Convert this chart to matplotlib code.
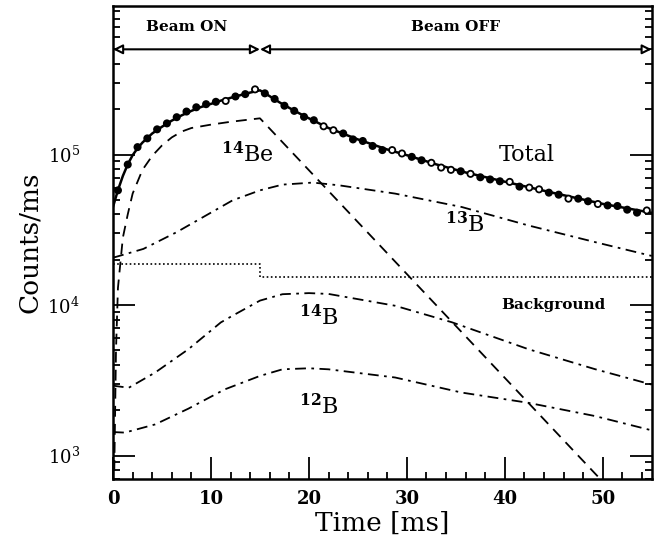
import numpy as np
import matplotlib
matplotlib.use('Agg')
import matplotlib.pyplot as plt
from matplotlib.ticker import MultipleLocator, LogLocator, NullFormatter

plt.rcParams['font.family'] = 'DejaVu Serif'
plt.rcParams['mathtext.fontset'] = 'dejavuserif'

# measured counts (one point per ms bin)
t_data = [0.5, 1.5, 2.5, 3.5, 4.5, 5.5, 6.5, 7.5, 8.5, 9.5, 10.5, 11.5, 12.5, 13.5,
          14.5, 15.5, 16.5, 17.5, 18.5, 19.5, 20.5, 21.5, 22.5, 23.5, 24.5, 25.5,
          26.5, 27.5, 28.5, 29.5, 30.5, 31.5, 32.5, 33.5, 34.5, 35.5, 36.5, 37.5,
          38.5, 39.5, 40.5, 41.5, 42.5, 43.5, 44.5, 45.5, 46.5, 47.5, 48.5, 49.5,
          50.5, 51.5, 52.5, 53.5, 54.5]
counts = [57800, 85800, 112000, 128000, 147000, 161000, 177000, 193000, 206000,
          216000, 224000, 227000, 243000, 252000, 271000, 255000, 234000, 211000,
          195000, 178000, 169000, 154000, 145000, 138000, 126000, 123000, 114000,
          107000, 107000, 101600, 96500, 91600, 88100, 81900, 79100, 77400, 74400,
          70600, 68300, 66400, 65800, 61200, 60300, 58700, 55800, 54100, 50900,
          50900, 48900, 46900, 45900, 45500, 43000, 41100, 42500]
# which points are drawn as open circles
open_pts = [11.5, 14.5, 21.5, 22.5, 28.5, 29.5, 32.5, 33.5, 34.5, 36.5, 40.5,
            42.5, 43.5, 46.5, 49.5, 54.5]

# fitted total
t_total = [0, 0.5, 1, 1.5, 2, 2.5, 3, 4, 5, 6, 7, 8, 9, 10, 11, 12, 13, 14, 15,
           16, 17, 18, 19, 20, 22, 25, 28, 30, 33, 36, 40, 45, 50, 55]
total = [45000, 58000, 72000, 86000, 99000, 110000, 120000, 138000, 153000,
         168000, 182000, 195000, 207000, 217000, 228000, 238000, 248000, 258000,
         267000, 244000, 222000, 204000, 188000, 174000, 150000, 126000, 108000,
         99000, 86000, 76000, 66000, 55500, 47000, 41000]

# 14Be component
t_be14 = [0.1, 0.3, 0.5, 1, 1.5, 2, 3, 4, 5, 6, 7, 8, 10, 12, 15, 49.7]
be14 = [600, 5000, 13000, 28000, 40000, 55000, 79000, 98000, 115000, 130000,
        142000, 150000, 158000, 165000, 174000, 703]

# 13B component
t_b13 = [0, 0.2, 3.1, 6.5, 9.5, 12.2, 15, 17.3, 20.4, 23.1, 28.8, 35.6, 42.4, 49.2, 55]
b13 = [20800, 20800, 23600, 30500, 39400, 49600, 57800, 63100, 65100, 62400,
       55000, 44800, 33800, 26200, 21200]

# 14B component
t_b14 = [0, 0.2, 1.6, 4.3, 7.7, 11.0, 12.2, 15, 17.3, 20, 22, 28.8, 34.6, 42.4, 49.2, 55]
b14 = [2950, 2900, 2820, 3560, 5090, 7660, 8490, 10700, 11800, 12000, 11850,
       9890, 7680, 5090, 3750, 2960]

# 12B component
t_b12 = [0, 0.2, 1.2, 4.3, 7.7, 11.4, 15, 17.3, 20, 22, 28.8, 35.6, 42.4, 49.2, 55]
b12 = [1440, 1430, 1420, 1610, 2050, 2750, 3380, 3740, 3800, 3740, 3300, 2620,
       2240, 1830, 1470]

# constant background (steps down when beam goes off)
t_bg = [0, 15, 55]
bg = [18700, 15400, 15400]

beam_y = 5.0e5

fig = plt.figure(figsize=(6.65, 5.46), dpi=100)
ax = fig.add_axes([0.170, 0.123, 0.810, 0.866])

ax.plot(t_total, total, '-', color='black', lw=1.8)
fill = ['white' if t in open_pts else 'black' for t in t_data]
ax.scatter(t_data, counts, s=20, c=fill, edgecolors='black', linewidths=1.3, zorder=3)

ax.plot(t_be14, be14, color='black', lw=1.3, dashes=(6, 4))
ax.plot(t_b13, b13, color='black', lw=1.3, dashes=(6, 3, 1.5, 3))
ax.plot(t_b14, b14, color='black', lw=1.3, dashes=(6, 3, 1.5, 3))
ax.plot(t_b12, b12, color='black', lw=1.3, dashes=(6, 3, 1.5, 3))
ax.plot(t_bg, bg, color='black', lw=1.2, drawstyle='steps-post', dashes=(1, 1.5))

# beam on / off arrows
arr = dict(arrowstyle='<|-|>', fc='white', ec='black', lw=1.5,
           shrinkA=0, shrinkB=0, mutation_scale=14)
ax.annotate('', xy=(0, beam_y), xytext=(15, beam_y), arrowprops=arr)
ax.annotate('', xy=(15, beam_y), xytext=(55, beam_y), arrowprops=arr)
ax.text(7.5, 7.0e5, 'Beam ON', ha='center', va='center', fontsize=11, fontweight='bold')
ax.text(35, 7.0e5, 'Beam OFF', ha='center', va='center', fontsize=11, fontweight='bold')

ax.text(13.7, 1.0e5, r'$^{\mathbf{14}}$Be', ha='center', va='center', fontsize=16)
ax.text(42.2, 1.0e5, 'Total', ha='center', va='center', fontsize=16)
ax.text(35.9, 3.4e4, r'$^{\mathbf{13}}$B', ha='center', va='center', fontsize=16)
ax.text(45.0, 1.0e4, 'Background', ha='center', va='center', fontsize=11, fontweight='bold')
ax.text(21.0, 8.3e3, r'$^{\mathbf{14}}$B', ha='center', va='center', fontsize=16)
ax.text(21.0, 2.1e3, r'$^{\mathbf{12}}$B', ha='center', va='center', fontsize=16)

ax.set_yscale('log')
ax.set_xlim(0, 55)
ax.set_ylim(700, 9.7e5)
ax.xaxis.set_major_locator(MultipleLocator(10))
ax.xaxis.set_minor_locator(MultipleLocator(2))
ax.yaxis.set_minor_locator(LogLocator(base=10, subs=np.arange(2, 10)))
ax.yaxis.set_minor_formatter(NullFormatter())

ax.tick_params(which='both', direction='in', top=False, right=True, width=1.3)
ax.tick_params(which='major', length=16)
ax.tick_params(which='minor', length=5)
ax.tick_params(axis='x', pad=8, labelsize=13)
ax.tick_params(axis='y', pad=24, labelsize=13)
for lab in ax.get_xticklabels():
    lab.set_fontweight('bold')
for s in ax.spines.values():
    s.set_linewidth(1.8)

ax.set_xlabel('Time [ms]', fontsize=19, labelpad=2)
ax.set_ylabel('Counts/ms', fontsize=19, labelpad=4)

plt.savefig('out.png', dpi=100)
